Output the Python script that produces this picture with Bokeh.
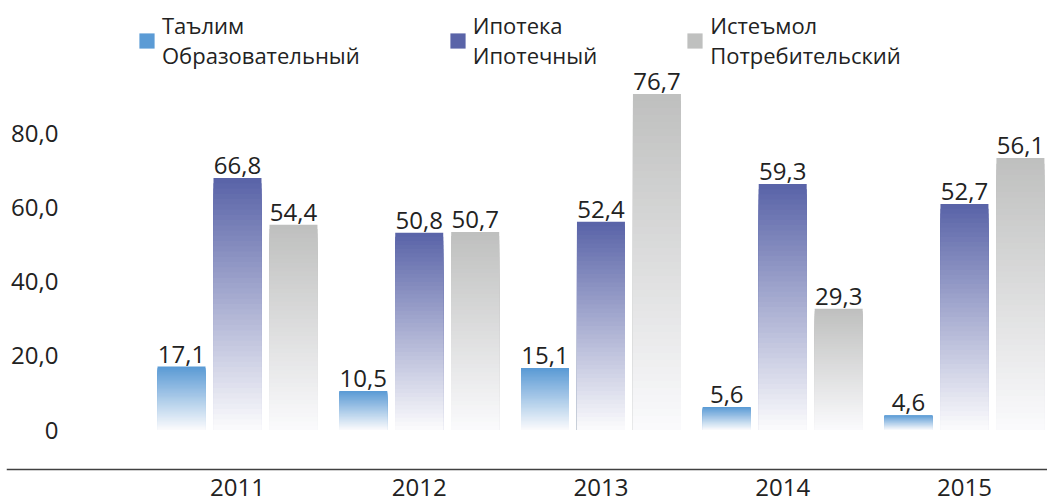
import numpy as np
from bokeh.plotting import figure
from bokeh.models import ColumnDataSource, FixedTicker, Legend, LegendItem, Range1d, LinearAxis
from bokeh.core.properties import value
from bokeh.embed import file_html
from bokeh.resources import INLINE

# ---- data -------------------------------------------------------------
years = ["2011", "2012", "2013", "2014", "2015"]
series_names = ["Таълим\nОбразовательный", "Ипотека\nИпотечный", "Истеъмол\nПотребительский"]
# bar heights as drawn in the picture
edu_height = [17.1, 10.5, 16.7, 6.2, 4.0]
mort_height = [67.9, 53.2, 56.1, 66.3, 60.9]
cons_height = [55.3, 53.4, 90.6, 32.7, 73.3]
# data labels as printed on the bars
edu_labels = ["17,1", "10,5", "15,1", "5,6", "4,6"]
mort_labels = ["66,8", "50,8", "52,4", "59,3", "52,7"]
cons_labels = ["54,4", "50,7", "76,7", "29,3", "56,1"]
y_ticks = [0, 20, 40, 60, 80]
y_tick_labels = ["0", "20,0", "40,0", "60,0", "80,0"]

# ---- style ------------------------------------------------------------
colors = ["#5B9BD5", "#5A64A8", "#BFC0BF"]
fade_to = (250, 250, 252)
offsets = [-0.308, 0.0, 0.308]
bar_w = 0.264
n_seg = 48
FONT = "Open Sans"
TXT = "#222222"

heights = [edu_height, mort_height, cons_height]
labels = [edu_labels, mort_labels, cons_labels]

p = figure(width=1047, height=504, output_backend="svg", toolbar_location=None,
           x_range=Range1d(-1.271, 4.457), y_range=Range1d(-20.08, 115.77),
           min_border_left=6, min_border_right=0, min_border_top=0, min_border_bottom=0)
p.outline_line_color = None
p.xgrid.visible = False
p.ygrid.visible = False
p.background_fill_color = "white"
p.border_fill_color = "white"


def hex_rgb(h):
    h = h.lstrip("#")
    return tuple(int(h[i:i + 2], 16) for i in (0, 2, 4))


legend_items = []
for s, (hs, lbs, col) in enumerate(zip(heights, labels, colors)):
    base = hex_rgb(col)
    xs = [i + offsets[s] for i in range(len(years))]
    # full bar in the series colour (also the legend swatch)
    bsrc = ColumnDataSource(dict(x=xs, top=hs))
    full = p.vbar(x="x", top="top", bottom=0, width=bar_w, source=bsrc,
                  fill_color=col, line_color=None)
    legend_items.append(LegendItem(label=series_names[s], renderers=[full]))
    # gradient towards white at the bottom of each bar
    L, R, T, B, C = [], [], [], [], []
    for x, h in zip(xs, hs):
        for k in range(1, n_seg):
            t = k / (n_seg - 1)
            c = tuple(int(round(base[j] + (fade_to[j] - base[j]) * t)) for j in range(3))
            L.append(x - bar_w / 2)
            R.append(x + bar_w / 2)
            B.append(0)
            T.append(h * (n_seg - k) / n_seg)
            C.append("#%02x%02x%02x" % c)
    src = ColumnDataSource(dict(left=L, right=R, top=T, bottom=B, color=C))
    p.quad(left="left", right="right", top="top", bottom="bottom", fill_color="color",
           line_color=None, source=src)
    # data labels
    tsrc = ColumnDataSource(dict(x=xs, y=hs, text=lbs))
    p.text(x="x", y="y", text="text", source=tsrc, text_align="center",
           text_baseline="bottom", y_offset=-4, text_font=value(FONT),
           text_font_size="24px", text_color=TXT)

legend = Legend(items=legend_items, orientation="horizontal", location=(131, 434),
                spacing=88, glyph_width=19, glyph_height=19, label_standoff=6,
                padding=0, margin=0, border_line_color=None, background_fill_alpha=0,
                label_text_font=FONT, label_text_font_size="22px", label_text_color=TXT,
                label_text_line_height=1.2)
p.add_layout(legend)


def style_x(ax):
    ax.major_tick_line_color = None
    ax.minor_tick_line_color = None
    ax.major_label_text_font = FONT
    ax.major_label_text_font_size = "24px"
    ax.major_label_text_color = TXT


# x axis (line + 2011-2014)
xa = p.xaxis[0]
xa.fixed_location = -10.65
xa.ticker = FixedTicker(ticks=list(range(len(years) - 1)))
xa.major_label_overrides = {i: y for i, y in enumerate(years)}
xa.axis_line_color = "#404040"
xa.axis_line_width = 1.5
xa.major_label_standoff = 3
style_x(xa)

# last year label sits a little higher in the original
xa2 = LinearAxis(fixed_location=-9.6,
                 ticker=FixedTicker(ticks=[len(years) - 1]),
                 major_label_overrides={len(years) - 1: years[-1]},
                 axis_line_color=None, major_label_standoff=7)
style_x(xa2)
p.add_layout(xa2, "below")

# y axis
ya = p.yaxis[0]
ya.fixed_location = -0.919
ya.ticker = FixedTicker(ticks=y_ticks)
ya.major_label_overrides = {t: l for t, l in zip(y_ticks, y_tick_labels)}
ya.axis_line_color = None
ya.major_tick_line_color = None
ya.minor_tick_line_color = None
ya.major_label_standoff = 6
ya.major_label_text_font = FONT
ya.major_label_text_font_size = "24px"
ya.major_label_text_color = TXT

open("out.html", "w").write(file_html(p, INLINE))
